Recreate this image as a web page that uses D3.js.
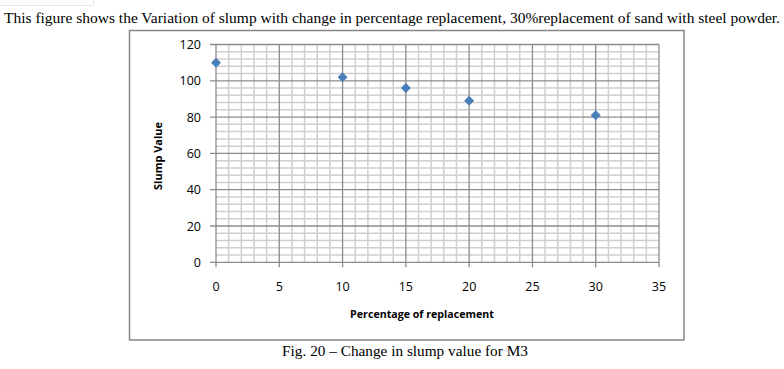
<!DOCTYPE html>
<html><head><meta charset="utf-8">
<script src="https://cdn.jsdelivr.net/npm/d3@7"></script>
<style>body{margin:0;background:#fff;} svg{display:block;}</style>
</head><body>
<svg id="c" width="784" height="369"></svg>
<script>
const replacement = [0, 10, 15, 20, 30];
const slump = [110, 102, 96, 89, 81];
const xTicks = [0, 5, 10, 15, 20, 25, 30, 35];
const yTicks = [0, 20, 40, 60, 80, 100, 120];

const svg = d3.select("#c");
const x = d3.scaleLinear().domain([0, 35]).range([216, 659]);
const y = d3.scaleLinear().domain([0, 120]).range([262.3, 44.5]);

function fitWidth(sel, w) {
  const n = sel.node();
  const cur = n.getComputedTextLength();
  const fs = parseFloat(sel.attr("font-size"));
  if (cur > 0) sel.attr("font-size", fs * w / cur);
}

// faint top-left mark
svg.append("path").attr("d","M0,5.5H93.5V0").attr("fill","none").attr("stroke","#e6e6e6").attr("stroke-width",1);

svg.append("text").attr("x",392).attr("y",23).attr("text-anchor","middle")
  .attr("font-family","'Liberation Serif','Times New Roman',serif").attr("font-size",14.5)
  .attr("textLength",776).attr("lengthAdjust","spacingAndGlyphs")
  .text("This figure shows the Variation of slump with change in percentage replacement, 30%replacement of sand with steel powder.");

svg.append("rect").attr("x",129.5).attr("y",30.5).attr("width",554.5).attr("height",309.5)
  .attr("fill","#fff").attr("stroke","#868686").attr("stroke-width",1.5);

const g = svg.append("g");
const xMinor = d3.range(0, 36, 1).filter(v => v % 5 !== 0);
const yMinor = d3.range(0, 121, 4).filter(v => v % 20 !== 0);
g.selectAll(".xm").data(xMinor).join("line")
  .attr("x1",d=>x(d)).attr("x2",d=>x(d)).attr("y1",y(0)).attr("y2",y(120))
  .attr("stroke","#cfcfcf").attr("stroke-width",1.5);
g.selectAll(".ym").data(yMinor).join("line")
  .attr("x1",x(0)).attr("x2",x(35)).attr("y1",d=>y(d)).attr("y2",d=>y(d))
  .attr("stroke","#cfcfcf").attr("stroke-width",1.5);
g.selectAll(".xM").data(xTicks).join("line")
  .attr("x1",d=>x(d)).attr("x2",d=>x(d)).attr("y1",y(0)+5).attr("y2",y(120))
  .attr("stroke","#8c8c8c").attr("stroke-width",1.3);
g.selectAll(".yM").data(yTicks).join("line")
  .attr("x1",x(0)-6).attr("x2",x(35)).attr("y1",d=>y(d)).attr("y2",d=>y(d))
  .attr("stroke","#8c8c8c").attr("stroke-width",1.3);

const tf = "'Open Sans','Noto Sans',sans-serif";
g.selectAll(".yl").data(yTicks).join("text")
  .attr("x",201).attr("y",d=>y(d)+4.5).attr("text-anchor","end")
  .attr("font-family",tf).attr("font-size",12.5).attr("fill","#000").text(d=>d);
g.selectAll(".xl").data(xTicks).join("text")
  .attr("x",d=>x(d)).attr("y",291).attr("text-anchor","middle")
  .attr("font-family",tf).attr("font-size",12.5).attr("fill","#000").text(d=>d);

const xt = svg.append("text").attr("x",422).attr("y",318).attr("text-anchor","middle")
  .attr("font-family",tf).attr("font-size",12).attr("font-weight","bold").text("Percentage of replacement");
fitWidth(xt, 144);
const yt = svg.append("text").attr("transform","translate(162,156) rotate(-90)").attr("text-anchor","middle")
  .attr("font-family",tf).attr("font-size",12).attr("font-weight","bold").text("Slump Value");
fitWidth(yt, 68);

const data = replacement.map((r,i)=>({r, s:slump[i]}));
g.selectAll(".pt").data(data).join("path")
  .attr("d", d3.symbol(d3.symbolDiamond2, 64))
  .attr("transform", d=>`translate(${x(d.r)},${y(d.s)})`)
  .attr("fill","#4a7ebb");

const fc = svg.append("text").attr("x",405).attr("y",356).attr("text-anchor","middle")
  .attr("font-family","'Liberation Serif','Times New Roman',serif").attr("font-size",14)
  .text("Fig. 20 – Change in slump value for M3");
fitWidth(fc, 246);
</script>
</body></html>
